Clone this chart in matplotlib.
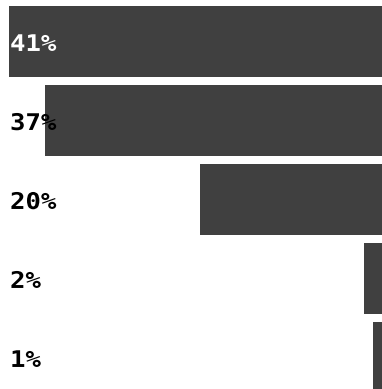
import matplotlib
matplotlib.use("Agg")
import matplotlib.pyplot as plt
from matplotlib.patheffects import AbstractPathEffect
from matplotlib.transforms import Affine2D, blended_transform_factory

# Share of responses per answer, largest first
shares = [41, 37, 20, 2, 1]
labels = ["41%", "37%", "20%", "2%", "1%"]
label_colors = ["white", "black", "black", "black", "black"]


class WideGlyphs(AbstractPathEffect):
    """Draw text glyphs stretched horizontally about their origin."""

    def __init__(self, sx=1.2):
        super().__init__()
        self._sx = sx

    def draw_path(self, renderer, gc, tpath, affine, rgbFace=None):
        affine = Affine2D().scale(self._sx, 1.0) + affine
        renderer.draw_path(gc, tpath, affine, rgbFace)


W, H = 382, 389
fig = plt.figure(figsize=(W / 100, H / 100), dpi=100)
ax = fig.add_axes([0, 0, 1, 1])

positions = list(range(len(shares)))
ax.barh(positions, shares, height=0.905, color="#404040")

# Bars grow leftward from the right edge
ax.set_xlim(41.99, 0)
ax.set_ylim(4.399, -0.525)
ax.axis("off")

trans = blended_transform_factory(ax.transAxes, ax.transData)
for pos, text, col in zip(positions, labels, label_colors):
    ax.text(10 / W, pos + 0.12, text, transform=trans, ha="left",
            va="baseline", fontsize=16.5, fontweight="bold",
            family="DejaVu Sans Mono", color=col,
            path_effects=[WideGlyphs(1.12)])

fig.savefig("out.png", dpi=100)
